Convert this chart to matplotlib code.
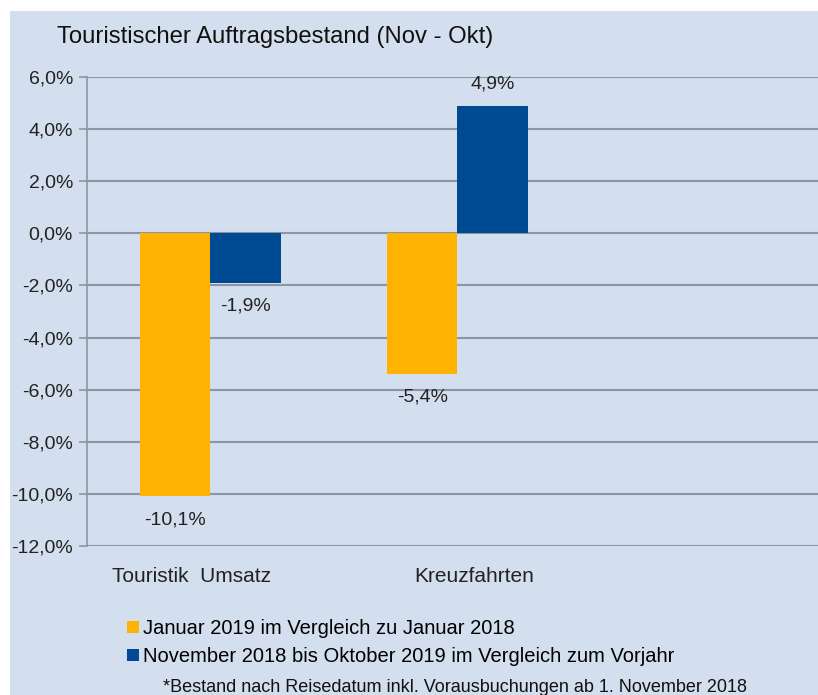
import matplotlib
matplotlib.use("Agg")
import matplotlib.pyplot as plt
import matplotlib.transforms as mtrans
from matplotlib.patches import Rectangle, Patch

categories = ["Touristik  Umsatz", "Kreuzfahrten"]
label_shift_px = [-19, 17]
jan_values = [-10.1, -5.4]
year_values = [-1.9, 4.9]
series_names = ["Januar 2019 im Vergleich zu Januar 2018",
                "November 2018 bis Oktober 2019 im Vergleich zum Vorjahr"]
y_ticks = [-12, -10, -8, -6, -4, -2, 0, 2, 4, 6]

orange = "#FFB300"
blue = "#004A93"
bg = "#D3DEEE"
grid = "#8C96A3"
txt_col = "#222222"

plt.rcParams['font.family'] = ['Liberation Sans', 'DejaVu Sans']

fig = plt.figure(figsize=(8.18, 6.95), dpi=100)
fig.patches.append(Rectangle((10 / 818, 0), 1, 1 - 11 / 695, transform=fig.transFigure,
                             facecolor=bg, edgecolor="none", zorder=-10))

ax = fig.add_axes([87 / 818, 1 - 546 / 695, 1 - 87 / 818, (546 - 77) / 695])
ax.set_facecolor(bg)
w = 0.285
x_jan = [i - w / 2 for i in range(len(jan_values))]
x_year = [i + w / 2 for i in range(len(year_values))]
ax.bar(x_jan, jan_values, width=w, color=orange, zorder=3)
ax.bar(x_year, year_values, width=w, color=blue, zorder=3)

# value labels
for xs, vals in [(x_jan, jan_values), (x_year, year_values)]:
    for x, v in zip(xs, vals):
        txt = ("%.1f%%" % v).replace(".", ",")
        off = 0.85 if v > 0 else -0.9
        ax.text(x, v + off, txt, ha="center", va="center", fontsize=14, color=txt_col)

ax.set_ylim(-12, 6)
ax.set_xlim(-0.5, 2.46)
ax.set_yticks(y_ticks)
ax.set_yticklabels([("%.1f%%" % t).replace(".", ",") for t in y_ticks], fontsize=14, color=txt_col)
ax.yaxis.grid(True, color=grid, linewidth=1.5, zorder=0)
ax.set_axisbelow(True)
ax.tick_params(axis="y", length=6, width=1.2, color=grid, pad=4)
ax.set_xticks([])
for i, (name, dx) in enumerate(zip(categories, label_shift_px)):
    tr = ax.get_xaxis_transform() + mtrans.ScaledTranslation(dx / 100, 0, fig.dpi_scale_trans)
    ax.text(i, -0.066, name, transform=tr, ha="center", va="center", fontsize=15, color=txt_col)
for s in ["top", "right", "bottom"]:
    ax.spines[s].set_visible(False)
ax.spines["left"].set_color(grid)
ax.spines["left"].set_linewidth(1.2)

fig.text(57 / 818, 1 - 37 / 695, "Touristischer Auftragsbestand (Nov - Okt)", fontsize=17.2,
         va="center", ha="left", color="#111111")

handles = [Patch(facecolor=orange), Patch(facecolor=blue)]
fig.legend(handles, series_names, loc="upper left", bbox_to_anchor=(127 / 818, 1 - 619 / 695),
           frameon=False, handlelength=0.6, handleheight=0.6, handletextpad=0.2,
           labelspacing=0.45, borderpad=0, borderaxespad=0,
           prop={"size": 14.5})
fig.text(455 / 818, 1 - 687 / 695, "*Bestand nach Reisedatum inkl. Vorausbuchungen ab 1. November 2018",
         fontsize=13, ha="center", va="center", color="#111111")

fig.savefig("out.png", dpi=100)
